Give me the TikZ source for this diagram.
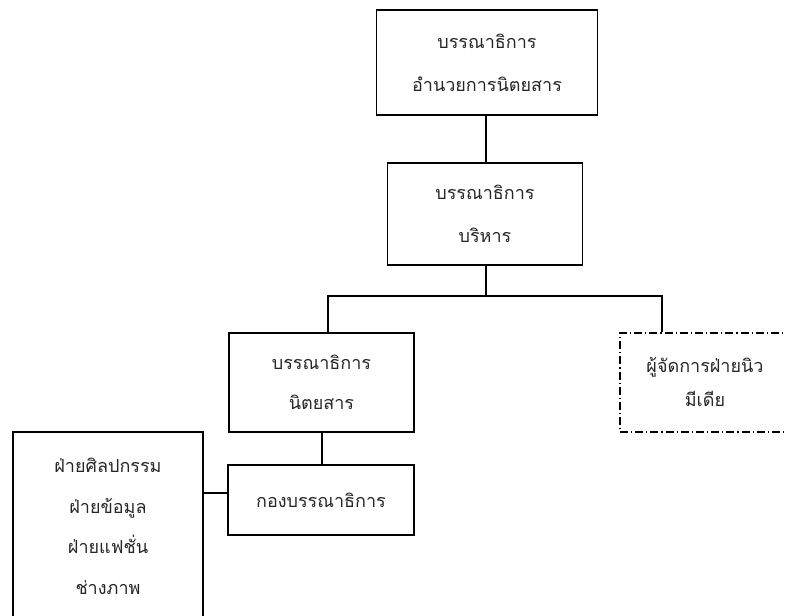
\documentclass[tikz,border=0pt]{standalone}
\usepackage{fontspec}
\newfontfamily\thaifont[Script=Thai]{Loma}
\tikzset{
  orgbox/.style={draw, line width=1.2pt, rectangle, inner sep=0pt, align=center,
    text=black!85, font={\thaifont\fontsize{18}{#1}\selectfont}},
  orgbox/.default=42pt,
  dashbox/.style={orgbox=#1, dash pattern=on 8pt off 3pt on 1.2pt off 3pt},
  link/.style={line width=1.2pt}
}
\begin{document}
\begin{tikzpicture}[x=1pt,y=-1pt]
  \useasboundingbox (0,0) rectangle (786,615);
  \clip (0,0) rectangle (786,615);

  % boxes
  \node[orgbox=43pt, minimum width=221pt, minimum height=105pt] (chief) at (487,62.5)
    {บรรณาธิการ\\อำนวยการนิตยสาร};
  \node[orgbox=43pt, minimum width=195pt, minimum height=102pt] (exec) at (485,214)
    {บรรณาธิการ\\บริหาร};
  \node[orgbox=40pt, minimum width=185pt, minimum height=99pt] (mag) at (321.5,382.5)
    {บรรณาธิการ\\นิตยสาร};
  \node[dashbox=34pt, minimum width=220pt, minimum height=99pt] (media) at (730,382.5)
    {\hspace*{-50pt}ผู้จัดการฝ่ายนิว\\\hspace*{-50pt}มีเดีย};
  \node[orgbox, minimum width=186pt, minimum height=70pt] (board) at (321,500)
    {กองบรรณาธิการ};
  \node[orgbox=40.5pt, minimum width=190pt, minimum height=189pt] (depts) at (108,526.5)
    {ฝ่ายศิลปกรรม\\ฝ่ายข้อมูล\\ฝ่ายแฟชั่น\\ช่างภาพ};

  % bus line under the executive editor
  \coordinate (busL) at (328,296);
  \coordinate (busR) at (662,296);

  % connectors
  \draw[link] (chief.south -| 486,0) -- (exec.north -| 486,0);
  \draw[link] (exec.south -| 486,0) -- (busL -| 486,0);
  \draw[link] (mag.north -| busL) -- (busL) -- (busR) -- (media.north -| busR);
  \draw[link] (mag.south -| 322,0) -- (board.north -| 322,0);
  \draw[link] (depts.east |- 0,493) -- (board.west |- 0,493);
\end{tikzpicture}
\end{document}
